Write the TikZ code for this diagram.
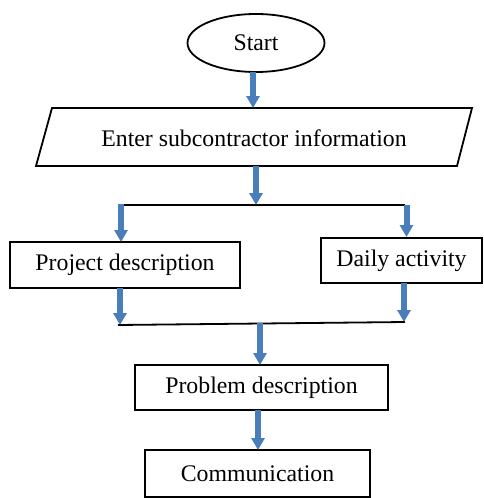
\documentclass[tikz,border=0pt]{standalone}
\usepackage{fontspec}
\setmainfont{Liberation Serif}
\usetikzlibrary{arrows.meta,shapes.geometric}
\definecolor{arrblue}{HTML}{4A7EBB}
\begin{document}
\begin{tikzpicture}[x=1pt,y=-1pt,
  txt/.style={font=\fontsize{23.8}{27}\selectfont},
  box/.style={draw,line width=1.8pt,inner sep=0pt,outer sep=0pt,txt},
  barrow/.style={draw=arrblue,line width=6pt,-{Triangle[width=13pt,length=12pt]}},
  joinline/.style={line width=1.8pt}]
\useasboundingbox (0,0) rectangle (483,498);
% Start
\node[box,ellipse,minimum width=137pt,minimum height=58pt] (start) at (256,43) {Start};
% Enter (parallelogram)
\draw[line width=1.8pt] (52,108) -- (472,108) -- (457,166) -- (36,166) -- cycle;
\node[txt,inner sep=0pt] (enter) at (254,138) {Enter subcontractor information};
\coordinate (enterTop) at (253,108);
\coordinate (enterBot) at (256,166);
% junction top
\coordinate (jtL) at (118,205);
\coordinate (jtR) at (405,205);
\coordinate (jtM) at (256,205);
\coordinate (jtLa) at (121,204);
\coordinate (jtRa) at (406.5,205);
\draw[joinline] (jtL) -- (jtR);
% boxes
\node[box,minimum width=230pt,minimum height=46pt] (proj) at (125,265) {Project description};
\node[box,minimum width=161pt,minimum height=45pt] (daily) at (401.5,260.5) {Daily activity};
% junction bottom
\coordinate (jbL) at (118,325);
\coordinate (jbR) at (405,322);
\coordinate (jbM) at (260,323);
\draw[joinline] (jbL) -- (jbR);
\node[box,minimum width=253pt,minimum height=45pt] (prob) at (261.5,387.5) {Problem description};
\node[box,minimum width=225pt,minimum height=47pt] (comm) at (257.5,473.5) {Communication};
% arrows
\draw[barrow] (start.south -| enterTop) -- (enterTop);
\draw[barrow] (enterBot) -- (jtM);
\draw[barrow] (jtLa) -- (jtLa |- proj.north);
\draw[barrow] (jtRa) -- ([yshift=1pt]jtRa |- daily.north);
\draw[barrow] (proj.south -| 120,0) -- (120,325);
\draw[barrow] (daily.south -| 404,0) -- (404,322);
\draw[barrow] (jbM) -- (jbM |- prob.north);
\draw[barrow] (prob.south -| 258,0) -- (258,450);
\end{tikzpicture}
\end{document}
